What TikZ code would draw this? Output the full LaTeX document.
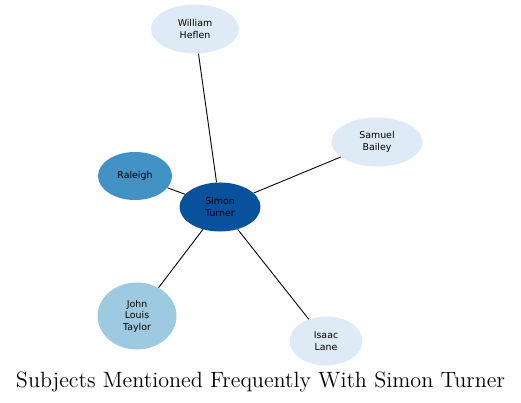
\documentclass[tikz,border=0pt]{standalone}
\usepackage{fontspec}
\newfontfamily\nodefont{DejaVu Sans}
\usetikzlibrary{shapes.geometric}
\definecolor{cA}{HTML}{08519C}
\definecolor{cB}{HTML}{4292C6}
\definecolor{cC}{HTML}{9ECAE1}
\definecolor{cD}{HTML}{DEEBF7}
\tikzset{
  person/.style={ellipse, inner sep=0pt, align=center,
    font=\nodefont\fontsize{9.4}{11.5}\selectfont},
  edge/.style={draw=black, line width=0.9pt},
}
\begin{document}
\begin{tikzpicture}[x=1pt,y=-1pt]
\useasboundingbox (0,0) rectangle (521,403);
\node[person, fill=cA, minimum width=81pt, minimum height=49pt] (simon) at (220,207) {Simon\\Turner};
\node[person, fill=cD, minimum width=88pt, minimum height=49pt] (william) at (195,29) {William\\Heflen};
\node[person, fill=cD, minimum width=91pt, minimum height=49pt] (samuel) at (377,142) {Samuel\\Bailey};
\node[person, fill=cB, minimum width=74pt, minimum height=48pt] (raleigh) at (135,176) {Raleigh};
\node[person, fill=cC, minimum width=79pt, minimum height=67pt] (john) at (137,316) {John\\Louis\\Taylor};
\node[person, fill=cD, minimum width=73pt, minimum height=49pt] (isaac) at (326,341) {Isaac\\Lane};
\draw[edge] (simon) -- (william);
\draw[edge] (simon) -- (samuel);
\draw[edge] (simon) -- (raleigh);
\draw[edge] (simon) -- (john);
\draw[edge] (simon) -- (isaac);
\node[inner sep=0pt] (title) at (260.5,382) {\resizebox{489pt}{!}{\fontsize{14}{16}\selectfont Subjects Mentioned Frequently With Simon Turner}};
\end{tikzpicture}
\end{document}
